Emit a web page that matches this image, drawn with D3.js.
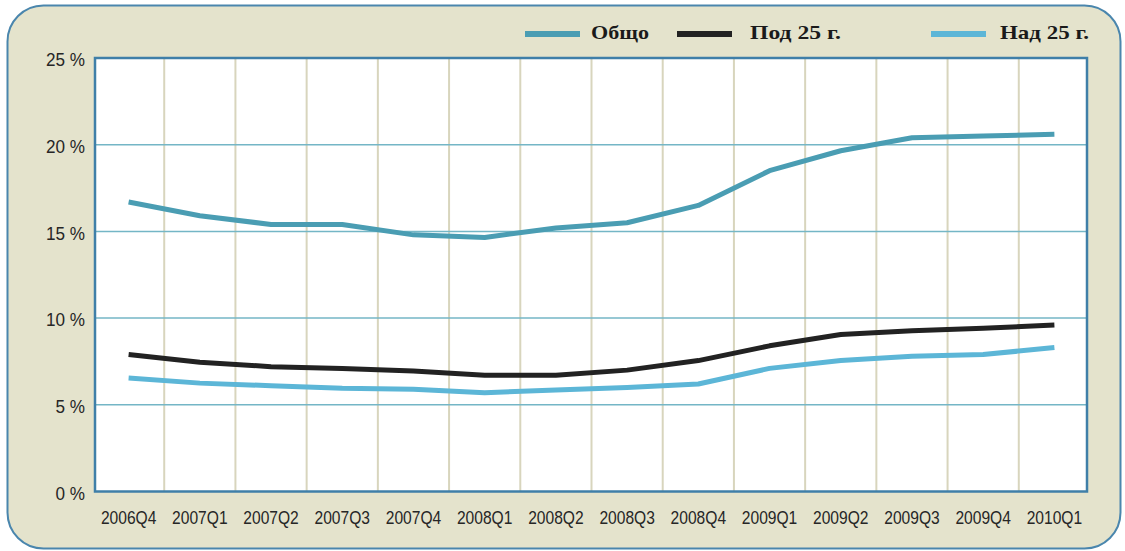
<!DOCTYPE html>
<html>
<head>
<meta charset="utf-8">
<script src="https://cdn.jsdelivr.net/npm/d3@7"></script>
<style>
  html, body { margin: 0; padding: 0; background: #ffffff; }
  svg { display: block; }
</style>
</head>
<body>
<svg id="chart" width="1125" height="551"></svg>
<script>
// Quarterly unemployment rates (%)
const quarters = ["2006Q4", "2007Q1", "2007Q2", "2007Q3", "2007Q4", "2008Q1", "2008Q2",
                  "2008Q3", "2008Q4", "2009Q1", "2009Q2", "2009Q3", "2009Q4", "2010Q1"];
const total   = [16.7, 15.9, 15.4, 15.4, 14.8, 14.65, 15.2, 15.5, 16.5, 18.5, 19.65, 20.4, 20.5, 20.6];
const under25 = [7.9, 7.45, 7.2, 7.1, 6.95, 6.7, 6.7, 7.0, 7.55, 8.4, 9.05, 9.27, 9.42, 9.6];
const over25  = [6.55, 6.25, 6.1, 5.95, 5.9, 5.7, 5.85, 6.0, 6.2, 7.1, 7.55, 7.8, 7.9, 8.3];
const yTicks  = [0, 5, 10, 15, 20, 25];
const seriesNames = ["Общо", "Под 25 г.", "Над 25 г."];

const series = [
  { name: seriesNames[0], values: total,   color: "#4a9db3" },
  { name: seriesNames[1], values: under25, color: "#222222" },
  { name: seriesNames[2], values: over25,  color: "#5cb6d7" }
];

const svg = d3.select("#chart");

// Outer rounded panel
svg.append("rect")
  .attr("x", 7.5).attr("y", 5.5)
  .attr("width", 1113).attr("height", 543)
  .attr("rx", 36).attr("ry", 36)
  .attr("fill", "#e4e3cc")
  .attr("stroke", "#4a86ad")
  .attr("stroke-width", 2);

const plot = { left: 95, right: 1087, top: 58, bottom: 491.5 };

const x = d3.scaleBand().domain(quarters).range([93, 1090]).padding(0);
const y = d3.scaleLinear().domain([0, 25]).range([plot.bottom, plot.top]);
const cx = q => x(q) + x.bandwidth() / 2;

// Plot background
svg.append("rect")
  .attr("x", plot.left).attr("y", plot.top)
  .attr("width", plot.right - plot.left).attr("height", plot.bottom - plot.top)
  .attr("fill", "#ffffff");

// Vertical gridlines at the boundaries between quarters
svg.append("g")
  .selectAll("line")
  .data(quarters.slice(1))
  .join("line")
  .attr("x1", d => x(d)).attr("x2", d => x(d))
  .attr("y1", plot.top).attr("y2", plot.bottom)
  .attr("stroke", "#d8d5bd")
  .attr("stroke-width", 2);

// Horizontal gridlines
svg.append("g")
  .selectAll("line")
  .data(yTicks.slice(1, -1))
  .join("line")
  .attr("x1", plot.left).attr("x2", plot.right)
  .attr("y1", d => y(d)).attr("y2", d => y(d))
  .attr("stroke", "#74b6c6")
  .attr("stroke-width", 1.5);

// Plot frame
svg.append("rect")
  .attr("x", plot.left).attr("y", plot.top)
  .attr("width", plot.right - plot.left).attr("height", plot.bottom - plot.top)
  .attr("fill", "none")
  .attr("stroke", "#3f7fa8")
  .attr("stroke-width", 2.5);

// Narrow sans-serif labels: compress the glyphs horizontally
function narrow(sel, factor) {
  sel.each(function () {
    const len = this.getComputedTextLength();
    d3.select(this).attr("textLength", len * factor).attr("lengthAdjust", "spacingAndGlyphs");
  });
}

// Y axis labels
const yAxis = svg.append("g").attr("transform", `translate(${plot.left - 10},0)`)
  .call(d3.axisLeft(y).tickValues(yTicks).tickSize(0).tickPadding(0).tickFormat(d => d + " %"));
yAxis.select(".domain").remove();
yAxis.selectAll("text")
  .attr("font-family", "'Liberation Sans', Arial, sans-serif")
  .attr("font-size", 19)
  .attr("fill", "#262626")
  .attr("dy", "0.4em")
  .call(narrow, 0.9);

// X axis labels
const xAxis = svg.append("g").attr("transform", `translate(0,${plot.bottom})`)
  .call(d3.axisBottom(x).tickSize(0).tickPadding(0));
xAxis.select(".domain").remove();
xAxis.selectAll("text")
  .attr("font-family", "'Liberation Sans', Arial, sans-serif")
  .attr("font-size", 19)
  .attr("fill", "#262626")
  .attr("dy", "1.7em")
  .call(narrow, 0.82);

// Series lines
const line = d3.line()
  .x((d, i) => cx(quarters[i]))
  .y(d => y(d));

svg.append("g")
  .selectAll("path")
  .data(series)
  .join("path")
  .attr("d", d => line(d.values))
  .attr("fill", "none")
  .attr("stroke", d => d.color)
  .attr("stroke-width", 5)
  .attr("stroke-linejoin", "round");

// Legend
const legendItems = [
  { s: series[0], x0: 525, tx: 591, w: 58 },
  { s: series[1], x0: 677, tx: 750, w: 91 },
  { s: series[2], x0: 931, tx: 1000, w: 89 }
];
const legend = svg.append("g");
legend.selectAll("line")
  .data(legendItems)
  .join("line")
  .attr("x1", d => d.x0).attr("x2", d => d.x0 + 55)
  .attr("y1", 34).attr("y2", 34)
  .attr("stroke", d => d.s.color)
  .attr("stroke-width", 6);
legend.selectAll("text")
  .data(legendItems)
  .join("text")
  .attr("x", d => d.tx).attr("y", 39)
  .attr("font-family", "'Liberation Serif', 'Times New Roman', serif")
  .attr("font-weight", "bold")
  .attr("font-size", 19)
  .attr("fill", "#1a1a1a")
  .text(d => d.s.name)
  .attr("textLength", d => d.w)
  .attr("lengthAdjust", "spacingAndGlyphs");
</script>
</body>
</html>
